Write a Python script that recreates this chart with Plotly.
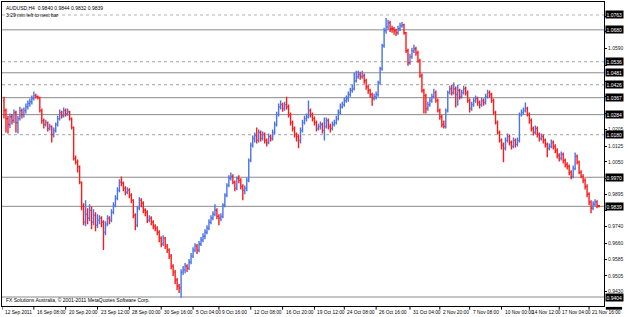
import plotly.graph_objects as go

# ---------------- data (AUDUSD H4) ----------------
opens = [
1.0342,1.0294,1.0256,1.0228,1.0265,1.0247,1.0285,1.0237,1.0256,1.0294,
1.0275,1.0294,1.0313,1.0328,1.0337,1.0352,1.0366,1.0361,1.0357,1.0294,
1.0247,1.0228,1.0237,1.0209,1.0218,1.0180,1.0199,1.0228,1.0256,1.0285,
1.0270,1.0294,1.0280,1.0289,1.0256,1.0214,1.0066,1.0047,1.0027,0.9952,
0.9837,0.9761,0.9799,0.9780,0.9818,0.9761,0.9794,0.9747,0.9771,0.9780,
0.9761,0.9713,0.9752,0.9780,0.9771,0.9809,0.9842,0.9876,0.9914,0.9952,
0.9947,0.9923,0.9904,0.9914,0.9890,0.9866,0.9794,0.9747,0.9828,0.9866,
0.9852,0.9818,0.9809,0.9771,0.9780,0.9761,0.9742,0.9733,0.9713,0.9685,
0.9657,0.9685,0.9647,0.9628,0.9599,0.9551,0.9523,0.9485,0.9456,0.9447,
0.9523,0.9533,0.9551,0.9542,0.9570,0.9599,0.9628,0.9647,0.9628,0.9657,
0.9676,0.9694,0.9713,0.9733,0.9761,0.9780,0.9799,0.9818,0.9789,0.9780,
0.9789,0.9842,0.9890,0.9937,0.9971,0.9980,0.9952,0.9923,0.9971,0.9961,
0.9932,0.9914,0.9923,0.9961,1.0056,1.0128,1.0161,1.0175,1.0152,1.0190,
1.0161,1.0180,1.0152,1.0142,1.0170,1.0161,1.0190,1.0228,1.0275,1.0313,
1.0323,1.0304,1.0323,1.0313,1.0275,1.0237,1.0209,1.0180,1.0170,1.0152,
1.0199,1.0237,1.0256,1.0265,1.0294,1.0275,1.0256,1.0237,1.0209,1.0218,
1.0228,1.0199,1.0218,1.0247,1.0218,1.0209,1.0228,1.0237,1.0256,1.0285,
1.0313,1.0323,1.0342,1.0352,1.0371,1.0390,1.0399,1.0437,1.0456,1.0466,
1.0456,1.0461,1.0437,1.0408,1.0390,1.0371,1.0352,1.0361,1.0371,1.0428,
1.0494,1.0604,1.0675,1.0694,1.0714,1.0685,1.0685,1.0675,1.0666,1.0685,
1.0699,1.0704,1.0666,1.0580,1.0523,1.0551,1.0580,1.0590,1.0570,1.0532,
1.0461,1.0390,1.0366,1.0304,1.0323,1.0342,1.0361,1.0380,1.0342,1.0294,
1.0265,1.0228,1.0218,1.0294,1.0380,1.0399,1.0380,1.0399,1.0371,1.0390,
1.0361,1.0380,1.0399,1.0380,1.0342,1.0304,1.0323,1.0342,1.0352,1.0333,
1.0323,1.0342,1.0333,1.0361,1.0380,1.0371,1.0342,1.0285,1.0237,1.0190,
1.0152,1.0128,1.0114,1.0152,1.0170,1.0142,1.0123,1.0152,1.0133,1.0152,
1.0275,1.0285,1.0294,1.0304,1.0275,1.0247,1.0209,1.0190,1.0209,1.0180,
1.0161,1.0170,1.0152,1.0133,1.0114,1.0123,1.0142,1.0123,1.0104,1.0080,
1.0066,1.0085,1.0056,1.0037,1.0027,0.9999,0.9980,1.0018,1.0075,1.0047,
0.9999,0.9980,0.9961,0.9932,0.9895,0.9857,0.9828,0.9847,0.9857,0.9840,
]
highs = [
1.0361,1.0304,1.0270,1.0280,1.0278,1.0299,1.0294,1.0270,1.0313,1.0304,
1.0309,1.0328,1.0342,1.0352,1.0366,1.0385,1.0375,1.0366,1.0361,1.0304,
1.0256,1.0251,1.0242,1.0232,1.0223,1.0213,1.0237,1.0270,1.0299,1.0294,
1.0309,1.0304,1.0304,1.0294,1.0261,1.0218,1.0080,1.0061,1.0032,0.9956,
0.9852,0.9866,0.9828,0.9847,0.9837,0.9823,0.9809,0.9799,0.9794,0.9790,
0.9771,0.9766,0.9794,0.9790,0.9823,0.9856,0.9890,0.9928,0.9966,0.9980,
0.9956,0.9933,0.9928,0.9923,0.9899,0.9871,0.9804,0.9837,0.9880,0.9876,
0.9861,0.9828,0.9818,0.9794,0.9790,0.9771,0.9752,0.9742,0.9723,0.9694,
0.9699,0.9690,0.9657,0.9637,0.9609,0.9561,0.9533,0.9495,0.9466,0.9537,
0.9552,0.9566,0.9561,0.9585,0.9614,0.9642,0.9661,0.9657,0.9671,0.9690,
0.9709,0.9728,0.9747,0.9775,0.9794,0.9813,0.9847,0.9828,0.9799,0.9804,
0.9852,0.9899,0.9947,0.9985,0.9999,0.9990,0.9961,0.9980,0.9985,0.9971,
0.9942,0.9937,0.9975,1.0066,1.0142,1.0175,1.0190,1.0213,1.0204,1.0199,
1.0194,1.0190,1.0161,1.0185,1.0180,1.0204,1.0242,1.0289,1.0328,1.0342,
1.0332,1.0337,1.0361,1.0323,1.0285,1.0247,1.0218,1.0190,1.0180,1.0213,
1.0251,1.0270,1.0280,1.0342,1.0304,1.0285,1.0266,1.0247,1.0232,1.0242,
1.0237,1.0261,1.0261,1.0256,1.0232,1.0242,1.0251,1.0270,1.0299,1.0328,
1.0337,1.0356,1.0366,1.0385,1.0404,1.0418,1.0475,1.0485,1.0485,1.0480,
1.0485,1.0471,1.0447,1.0418,1.0399,1.0380,1.0375,1.0385,1.0437,1.0504,
1.0614,1.0690,1.0737,1.0728,1.0723,1.0699,1.0694,1.0685,1.0699,1.0714,
1.0718,1.0709,1.0670,1.0590,1.0566,1.0594,1.0609,1.0599,1.0580,1.0542,
1.0471,1.0399,1.0375,1.0337,1.0356,1.0375,1.0399,1.0390,1.0352,1.0304,
1.0275,1.0247,1.0304,1.0390,1.0413,1.0418,1.0428,1.0409,1.0418,1.0399,
1.0394,1.0413,1.0409,1.0390,1.0352,1.0337,1.0356,1.0366,1.0361,1.0342,
1.0356,1.0352,1.0375,1.0394,1.0390,1.0380,1.0352,1.0294,1.0247,1.0199,
1.0161,1.0142,1.0166,1.0185,1.0180,1.0152,1.0166,1.0161,1.0166,1.0285,
1.0299,1.0309,1.0333,1.0313,1.0285,1.0256,1.0218,1.0223,1.0218,1.0190,
1.0185,1.0180,1.0161,1.0142,1.0137,1.0156,1.0152,1.0133,1.0114,1.0090,
1.0099,1.0094,1.0066,1.0047,1.0037,1.0009,1.0032,1.0094,1.0085,1.0056,
1.0009,0.9990,0.9971,0.9942,0.9904,0.9866,0.9861,0.9871,0.9866,0.9844,
]
lows = [
1.0256,1.0190,1.0185,1.0210,1.0228,1.0235,1.0190,1.0185,1.0247,1.0256,
1.0261,1.0280,1.0299,1.0313,1.0323,1.0342,1.0352,1.0347,1.0285,1.0232,
1.0209,1.0218,1.0194,1.0199,1.0142,1.0166,1.0190,1.0218,1.0247,1.0256,
1.0261,1.0266,1.0270,1.0247,1.0204,1.0056,1.0037,0.9999,0.9942,0.9818,
0.9747,0.9742,0.9752,0.9766,0.9728,0.9747,0.9718,0.9733,0.9752,0.9737,
0.9628,0.9699,0.9742,0.9752,0.9761,0.9799,0.9833,0.9866,0.9904,0.9933,
0.9909,0.9890,0.9895,0.9876,0.9852,0.9780,0.9723,0.9737,0.9818,0.9833,
0.9804,0.9790,0.9757,0.9761,0.9747,0.9728,0.9718,0.9699,0.9666,0.9642,
0.9647,0.9633,0.9614,0.9585,0.9537,0.9504,0.9466,0.9438,0.9423,0.9400,
0.9509,0.9518,0.9523,0.9533,0.9561,0.9590,0.9618,0.9609,0.9618,0.9647,
0.9666,0.9680,0.9704,0.9723,0.9752,0.9771,0.9790,0.9775,0.9747,0.9766,
0.9780,0.9833,0.9880,0.9928,0.9961,0.9942,0.9909,0.9914,0.9947,0.9918,
0.9866,0.9895,0.9909,0.9952,1.0047,1.0118,1.0142,1.0137,1.0142,1.0147,
1.0152,1.0137,1.0123,1.0133,1.0147,1.0152,1.0180,1.0218,1.0266,1.0299,
1.0289,1.0294,1.0299,1.0261,1.0223,1.0194,1.0166,1.0147,1.0114,1.0137,
1.0190,1.0228,1.0242,1.0256,1.0261,1.0242,1.0223,1.0194,1.0199,1.0204,
1.0185,1.0152,1.0209,1.0204,1.0190,1.0199,1.0218,1.0228,1.0247,1.0275,
1.0304,1.0313,1.0332,1.0337,1.0361,1.0380,1.0390,1.0428,1.0447,1.0442,
1.0447,1.0423,1.0394,1.0375,1.0356,1.0318,1.0342,1.0347,1.0361,1.0418,
1.0485,1.0594,1.0661,1.0680,1.0670,1.0666,1.0656,1.0651,1.0656,1.0675,
1.0690,1.0656,1.0570,1.0509,1.0513,1.0542,1.0570,1.0556,1.0523,1.0451,
1.0380,1.0280,1.0280,1.0294,1.0313,1.0332,1.0352,1.0332,1.0285,1.0251,
1.0213,1.0209,1.0209,1.0285,1.0371,1.0366,1.0371,1.0309,1.0318,1.0347,
1.0352,1.0371,1.0366,1.0332,1.0285,1.0294,1.0313,1.0332,1.0318,1.0304,
1.0313,1.0318,1.0323,1.0352,1.0356,1.0332,1.0275,1.0228,1.0180,1.0142,
1.0109,1.0047,1.0104,1.0142,1.0128,1.0109,1.0114,1.0118,1.0123,1.0142,
1.0266,1.0275,1.0285,1.0266,1.0232,1.0194,1.0175,1.0180,1.0166,1.0147,
1.0152,1.0137,1.0118,1.0071,1.0104,1.0114,1.0109,1.0090,1.0066,1.0051,
1.0056,1.0042,1.0023,1.0013,0.9985,0.9966,0.9971,1.0009,1.0037,0.9990,
0.9971,0.9947,0.9918,0.9880,0.9842,0.9804,0.9818,0.9837,0.9828,0.9832,
]
closes = [
1.0294,1.0256,1.0228,1.0265,1.0247,1.0285,1.0237,1.0256,1.0294,1.0275,
1.0294,1.0313,1.0328,1.0337,1.0352,1.0366,1.0361,1.0357,1.0294,1.0247,
1.0228,1.0237,1.0209,1.0218,1.0180,1.0199,1.0228,1.0256,1.0285,1.0270,
1.0294,1.0280,1.0289,1.0256,1.0214,1.0066,1.0047,1.0027,0.9952,0.9837,
0.9761,0.9799,0.9780,0.9818,0.9761,0.9794,0.9747,0.9771,0.9780,0.9761,
0.9713,0.9752,0.9780,0.9771,0.9809,0.9842,0.9876,0.9914,0.9952,0.9947,
0.9923,0.9904,0.9914,0.9890,0.9866,0.9794,0.9747,0.9828,0.9866,0.9852,
0.9818,0.9809,0.9771,0.9780,0.9761,0.9742,0.9733,0.9713,0.9685,0.9657,
0.9685,0.9647,0.9628,0.9599,0.9551,0.9523,0.9485,0.9456,0.9447,0.9523,
0.9533,0.9551,0.9542,0.9570,0.9599,0.9628,0.9647,0.9628,0.9657,0.9676,
0.9694,0.9713,0.9733,0.9761,0.9780,0.9799,0.9818,0.9789,0.9780,0.9789,
0.9842,0.9890,0.9937,0.9971,0.9980,0.9952,0.9923,0.9971,0.9961,0.9932,
0.9914,0.9923,0.9961,1.0056,1.0128,1.0161,1.0175,1.0152,1.0190,1.0161,
1.0180,1.0152,1.0142,1.0170,1.0161,1.0190,1.0228,1.0275,1.0313,1.0323,
1.0304,1.0323,1.0313,1.0275,1.0237,1.0209,1.0180,1.0170,1.0152,1.0199,
1.0237,1.0256,1.0265,1.0294,1.0275,1.0256,1.0237,1.0209,1.0218,1.0228,
1.0199,1.0218,1.0247,1.0218,1.0209,1.0228,1.0237,1.0256,1.0285,1.0313,
1.0323,1.0342,1.0352,1.0371,1.0390,1.0399,1.0437,1.0456,1.0466,1.0456,
1.0461,1.0437,1.0408,1.0390,1.0371,1.0352,1.0361,1.0371,1.0428,1.0494,
1.0604,1.0675,1.0694,1.0714,1.0685,1.0685,1.0675,1.0666,1.0685,1.0699,
1.0704,1.0666,1.0580,1.0523,1.0551,1.0580,1.0590,1.0570,1.0532,1.0461,
1.0390,1.0366,1.0304,1.0323,1.0342,1.0361,1.0380,1.0342,1.0294,1.0265,
1.0228,1.0218,1.0294,1.0380,1.0399,1.0380,1.0399,1.0371,1.0390,1.0361,
1.0380,1.0399,1.0380,1.0342,1.0304,1.0323,1.0342,1.0352,1.0333,1.0323,
1.0342,1.0333,1.0361,1.0380,1.0371,1.0342,1.0285,1.0237,1.0190,1.0152,
1.0128,1.0114,1.0152,1.0170,1.0142,1.0123,1.0152,1.0133,1.0152,1.0275,
1.0285,1.0294,1.0304,1.0275,1.0247,1.0209,1.0190,1.0209,1.0180,1.0161,
1.0170,1.0152,1.0133,1.0114,1.0123,1.0142,1.0123,1.0104,1.0080,1.0066,
1.0085,1.0056,1.0037,1.0027,0.9999,0.9980,1.0018,1.0075,1.0047,0.9999,
0.9980,0.9961,0.9932,0.9895,0.9857,0.9828,0.9847,0.9857,0.9840,0.9839,
]

# horizontal level lines drawn on the chart
line_levels = [1.0751, 1.0680, 1.0528, 1.0475, 1.0418, 1.0356, 1.0275, 1.0180, 0.9976, 0.9837, 0.9404]
line_labels = ["1.0763", "1.0680", "1.0536", "1.0481", "1.0426", "1.0367", "1.0284", "1.0180", "0.9970", "0.9839", "0.9404"]
line_dotted = [True, False, True, False, True, False, False, True, False, False, False]

# price scale labels (those hidden under level boxes in the reference are blank)
price_ticks = [1.0745, 1.0670, 1.0590, 1.0512, 1.0435, 1.0360, 1.0280, 1.0205, 1.0125,
               1.0050, 0.9970, 0.9895, 0.9815, 0.9740, 0.9660, 0.9585, 0.9505, 0.9430]
price_tick_shown = [False, False, True, False, False, False, False, True, True,
                    True, False, True, False, True, True, True, True, True]

# time scale labels (bar index where each label starts)
date_labels = ["12 Sep 2011", "16 Sep 08:00", "20 Sep 20:00", "23 Sep 12:00", "28 Sep 00:00",
               "30 Sep 16:00", "5 Oct 04:00", "9 Oct 16:00", "12 Oct 08:00", "16 Oct 20:00",
               "19 Oct 12:00", "24 Oct 08:00", "26 Oct 16:00", "31 Oct 04:00", "2 Nov 20:00",
               "7 Nov 08:00", "10 Nov 00:00", "14 Nov 12:00", "17 Nov 04:00", "21 Nov 16:00"]
date_bars = [-1, 15, 31, 47, 63, 79, 95, 108, 124, 140, 156, 171, 187, 204, 219, 234, 250, 264, 279, 294]

header1 = "AUDUSD,H4  0.9840 0.9844 0.9832 0.9839"
header2 = "3:29 min left to next bar"
footer = "FX Solutions Australia, \u00a9 2001-2011 MetaQuotes Software Corp."

UP = "#4a72ea"
DOWN = "#ff1a1a"
FONT = "Liberation Sans"

idx = list(range(len(closes)))

fig = go.Figure()
fig.add_trace(go.Ohlc(
    x=idx, open=opens, high=highs, low=lows, close=closes,
    increasing=dict(line=dict(color=UP, width=1.4)),
    decreasing=dict(line=dict(color=DOWN, width=1.4)),
    tickwidth=0.5, hoverinfo="skip", showlegend=False,
))

shapes = []
for lv, dot in zip(line_levels, line_dotted):
    shapes.append(dict(type="line", xref="paper", x0=0, x1=1, yref="y", y0=lv, y1=lv,
                       line=dict(color="#b4b4b4" if dot else "#8a8a8a", width=1.2 if dot else 1,
                                 dash="dot" if dot else "solid"), layer="below"))
for b in date_bars:
    shapes.append(dict(type="line", xref="x", x0=b, x1=b, yref="paper", y0=0, y1=-0.012,
                       line=dict(color="black", width=1)))
# clipped level box below the visible price range
shapes.append(dict(type="rect", xref="paper", x0=1.003, x1=1.03, yref="paper", y0=-0.003, y1=-0.012,
                   fillcolor="black", line=dict(width=0)))

annotations = []
for lbl, bar in zip(date_labels, date_bars):
    annotations.append(dict(x=bar, xref="x", y=0, yref="paper", yanchor="top", xanchor="left",
                            xshift=1, yshift=-2, text=lbl, showarrow=False,
                            font=dict(family=FONT, size=4.8, color="black")))
for lv, lbl in zip(line_levels, line_labels):
    annotations.append(dict(x=1, xref="paper", y=lv, yref="y", xanchor="left", yanchor="middle",
                            xshift=1, text=lbl, showarrow=False, bgcolor="black", borderpad=0.5,
                            font=dict(family=FONT, size=5, color="white")))
annotations.append(dict(x=0, xref="paper", y=1, yref="paper", xanchor="left", yanchor="top",
                        xshift=2, yshift=-1, text=header1 + "<br>" + header2, showarrow=False,
                        align="left", font=dict(family=FONT, size=5, color="black")))
annotations.append(dict(x=0, xref="paper", y=0, yref="paper", xanchor="left", yanchor="bottom",
                        xshift=2, yshift=1, text=footer, showarrow=False,
                        font=dict(family=FONT, size=5, color="black")))

fig.update_layout(
    width=625, height=317,
    margin=dict(l=1, r=19, t=1, b=11),
    paper_bgcolor="white", plot_bgcolor="white",
    shapes=shapes, annotations=annotations,
    font=dict(family=FONT, size=5, color="black"),
    xaxis=dict(range=[-1, 301.5], showgrid=False, zeroline=False, showticklabels=False,
               showline=True, mirror=True, linecolor="black", linewidth=1,
               rangeslider=dict(visible=False), fixedrange=True),
    yaxis=dict(range=[0.9361, 1.0813], side="right", showgrid=False, zeroline=False,
               tickvals=price_ticks,
               ticktext=[f"{v:.4f}" if s else "" for v, s in zip(price_ticks, price_tick_shown)],
               ticks="outside", ticklen=2, tickcolor="black",
               tickfont=dict(family=FONT, size=5, color="#202020"),
               showline=True, mirror=True, linecolor="black", linewidth=1, fixedrange=True),
)

fig.write_html("out.html")
